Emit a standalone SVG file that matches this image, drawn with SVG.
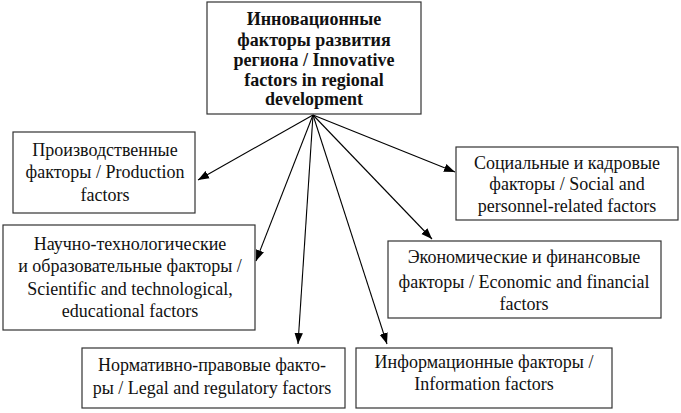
<svg xmlns="http://www.w3.org/2000/svg" width="681" height="413" viewBox="0 0 681 413">
<style>
.box{fill:#fff;stroke:#333;stroke-width:1.2}
.t{font-family:"Liberation Serif","Times New Roman",serif;font-size:18px;fill:#111;text-anchor:middle}
.b{font-weight:bold;font-size:18px}
.c{stroke:#000;stroke-width:1.1;fill:none;marker-end:url(#ah)}
</style>
<defs>
<marker id="ah" markerUnits="userSpaceOnUse" markerWidth="12" markerHeight="10" viewBox="0 0 12 10" refX="11" refY="5" orient="auto">
<path d="M0,0.8 L11,5 L0,9.2 Z" fill="#000"/>
</marker>
</defs>
<rect width="681" height="413" fill="#fff"/>
<g id="connectors">
<line class="c" x1="313" y1="115" x2="198" y2="180"/>
<line class="c" x1="313" y1="115" x2="256" y2="261"/>
<line class="c" x1="313" y1="115" x2="298" y2="344"/>
<line class="c" x1="313" y1="115" x2="387" y2="344"/>
<line class="c" x1="313" y1="115" x2="432" y2="239"/>
<line class="c" x1="313" y1="115" x2="455" y2="172"/>
</g>
<g id="main">
<rect class="box" x="207" y="2" width="214" height="112"/>
<text class="t b" x="314"><tspan x="314" y="25">Инновационные</tspan><tspan x="314" y="46">факторы развития</tspan><tspan x="314" y="66">региона / Innovative</tspan><tspan x="314" y="86">factors in regional</tspan><tspan x="314" y="105">development</tspan></text>
</g>
<g id="production">
<rect class="box" x="13" y="132" width="182" height="81"/>
<text class="t"><tspan x="105" y="156">Производственные</tspan><tspan x="105" y="178">факторы / Production</tspan><tspan x="105" y="201">factors</tspan></text>
</g>
<g id="scientific">
<rect class="box" x="3" y="225" width="252" height="105"/>
<text class="t"><tspan x="130" y="250">Научно-технологические</tspan><tspan x="130" y="272">и образовательные факторы /</tspan><tspan x="130" y="295">Scientific and technological,</tspan><tspan x="130" y="317">educational factors</tspan></text>
</g>
<g id="legal">
<rect class="box" x="82" y="348" width="263" height="60"/>
<text class="t"><tspan x="212" y="371">Нормативно-правовые факто-</tspan><tspan x="212" y="394">ры / Legal and regulatory factors</tspan></text>
</g>
<g id="information">
<rect class="box" x="356" y="348" width="256" height="60"/>
<text class="t"><tspan x="484" y="368">Информационные факторы /</tspan><tspan x="484" y="390">Information factors</tspan></text>
</g>
<g id="economic">
<rect class="box" x="388" y="241" width="273" height="77"/>
<text class="t"><tspan x="524" y="263">Экономические и финансовые</tspan><tspan x="524" y="288">факторы / Economic and financial</tspan><tspan x="524" y="310">factors</tspan></text>
</g>
<g id="social">
<rect class="box" x="456" y="147" width="222" height="73"/>
<text class="t"><tspan x="567" y="169">Социальные и кадровые</tspan><tspan x="567" y="190">факторы / Social and</tspan><tspan x="567" y="212">personnel-related factors</tspan></text>
</g>
</svg>
